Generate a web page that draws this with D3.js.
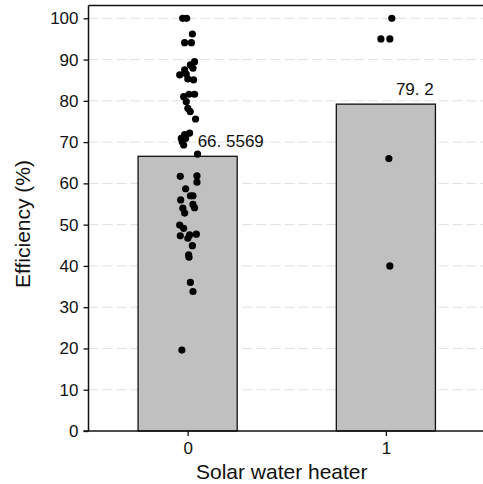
<!DOCTYPE html>
<html>
<head>
<meta charset="utf-8">
<script src="https://cdn.jsdelivr.net/npm/d3@7"></script>
<style>
  html, body { margin: 0; padding: 0; background: #fff; }
  svg { display: block; }
  text { font-family: "Liberation Sans", Arial, Helvetica, sans-serif; fill: #111; }
</style>
</head>
<body>
<svg id="chart" width="483" height="484"></svg>
<script>
// ---- data ----
const categories = [0, 1];
const barValues = [66.5569, 79.2];
const barLabels = ["66. 5569", "79. 2"];
const yTicks = [0, 10, 20, 30, 40, 50, 60, 70, 80, 90, 100];
const xTickLabels = ["0", "1"];
const xTitle = "Solar water heater";
const yTitle = "Efficiency (%)";

// individual observations: jittered x (category units) and efficiency
const pointGroup0Jitter = [-0.025, -0.005, 0.024, -0.015, 0.019,
  0.035, 0.014, 0.027, -0.015, -0.04, -0.007, 0.001, 0.03,
  -0.02, 0.007, 0.035, -0.007, 0.001, 0.013, 0.04,
  0.01, -0.015, -0.032, -0.01, -0.027, -0.02,
  0.05,
  -0.037, 0.047, 0.047, -0.01, 0.014, 0.027, -0.035, 0.027, -0.024, 0.035, -0.015,
  -0.04, -0.02, -0.037, 0.01, 0.044, 0.001, 0.024,
  0.005, 0.007, 0.014, 0.027, -0.029];
const pointGroup0Values = [100, 100, 96.2, 94.1, 94.1,
  89.5, 88.7, 87.9, 87.5, 86.3, 86.5, 85.3, 85.1,
  81, 81.6, 81.6, 79.8, 78.2, 77.4, 75.6,
  72.2, 71.8, 70.9, 70.9, 70, 69.3,
  67.1,
  61.7, 61.8, 60.3, 58.7, 57, 57, 56, 54.9, 54, 54.1, 52.8,
  49.9, 49.1, 47.3, 47.5, 47.7, 46.7, 44.9,
  42.7, 42.1, 36, 33.8, 19.6];
const pointGroup1Jitter = [0.03, -0.025, 0.02, 0.015, 0.02];
const pointGroup1Values = [100, 95, 95, 66, 40];

// ---- layout ----
const svg = d3.select("#chart");
const mLeft = 88.5, mRight = 485, mTop = 5.5, mBottom = 431;

const x = d3.scaleLinear().domain([-0.5, 1.5]).range([mLeft, mRight]);
const y = d3.scaleLinear().domain([0, 103.1]).range([mBottom, mTop]);
const barW = x(0.25) - x(0);

// gridlines
svg.append("g").selectAll("line")
  .data(yTicks.filter(d => d > 0))
  .join("line")
  .attr("x1", mLeft).attr("x2", 483)
  .attr("y1", d => y(d)).attr("y2", d => y(d))
  .attr("stroke", "#e0e0e0").attr("stroke-width", 1)
  .attr("stroke-dasharray", "10,4");

// bars
svg.append("g").selectAll("rect")
  .data(categories)
  .join("rect")
  .attr("x", (d) => x(d) - barW)
  .attr("width", barW * 2)
  .attr("y", (d, i) => y(barValues[i]))
  .attr("height", (d, i) => y(0) - y(barValues[i]))
  .attr("fill", "#c0c0c0")
  .attr("stroke", "#111")
  .attr("stroke-width", 1.3);

// bar value labels
svg.append("g").selectAll("text")
  .data(categories)
  .join("text")
  .attr("x", d => x(d) + 10)
  .attr("y", (d, i) => y(barValues[i]) - 9.5)
  .attr("font-size", 17)
  .text((d, i) => barLabels[i]);

// points
const pts = pointGroup0Values.map((v, i) => ({ x: categories[0] + pointGroup0Jitter[i], v }))
  .concat(pointGroup1Values.map((v, i) => ({ x: categories[1] + pointGroup1Jitter[i], v })));
svg.append("g").selectAll("circle")
  .data(pts)
  .join("circle")
  .attr("cx", d => x(d.x))
  .attr("cy", d => y(d.v))
  .attr("r", 3.6)
  .attr("fill", "#000");

// top frame line
svg.append("line")
  .attr("x1", mLeft).attr("x2", 483)
  .attr("y1", mTop).attr("y2", mTop)
  .attr("stroke", "#111").attr("stroke-width", 1.5);

// y axis
const yAxis = svg.append("g")
  .attr("transform", `translate(${mLeft},0)`)
  .call(d3.axisLeft(y).tickValues(yTicks).tickSize(5).tickPadding(5));
yAxis.select(".domain").attr("d", `M0,${mTop}V${mBottom}`).attr("stroke", "#111").attr("stroke-width", 1.5);
yAxis.selectAll(".tick line").attr("stroke", "#111").attr("stroke-width", 1.3);
yAxis.selectAll(".tick text").attr("font-size", 17).attr("font-family", "Liberation Sans, Arial, sans-serif").attr("fill", "#111");

// x axis
const xAxis = svg.append("g")
  .attr("transform", `translate(0,${mBottom})`)
  .call(d3.axisBottom(x).tickValues(categories).tickFormat((d, i) => xTickLabels[i]).tickSize(5).tickPadding(6));
xAxis.select(".domain").attr("d", `M${mLeft - 5},0H483`).attr("stroke", "#111").attr("stroke-width", 1.5);
xAxis.selectAll(".tick line").attr("stroke", "#111").attr("stroke-width", 1.3);
xAxis.selectAll(".tick text").attr("font-size", 17).attr("font-family", "Liberation Sans, Arial, sans-serif").attr("fill", "#111");

// titles
svg.append("text")
  .attr("x", (mLeft + 483) / 2 - 4)
  .attr("y", 479)
  .attr("text-anchor", "middle")
  .attr("font-size", 21)
  .text(xTitle);

svg.append("text")
  .attr("transform", `translate(30,224) rotate(-90)`)
  .attr("text-anchor", "middle")
  .attr("font-size", 21)
  .text(yTitle);
</script>
</body>
</html>
